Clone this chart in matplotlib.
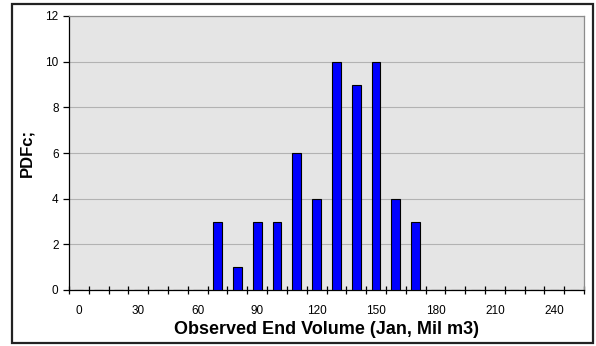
import matplotlib
matplotlib.use("Agg")
import matplotlib.pyplot as plt
import numpy as np
from matplotlib.patches import Rectangle

plt.rcParams['font.family'] = ['Liberation Sans', 'DejaVu Sans']

# categories: observed end volume bins (Mil m3)
volumes = list(range(0, 260, 10))
counts = [0, 0, 0, 0, 0, 0, 0, 3, 1, 3, 3, 6, 4, 10, 9, 10, 4, 3,
          0, 0, 0, 0, 0, 0, 0, 0]
tick_labels = [str(v) if v % 30 == 0 else '' for v in volumes]

fig = plt.figure(figsize=(5.96, 3.46), dpi=100)
fig.patches.append(Rectangle((12 / 596, 3 / 346), 581 / 596, 339 / 346,
                             transform=fig.transFigure, fill=False,
                             edgecolor='#222222', linewidth=1.6))

ax = fig.add_axes([69 / 596, 1 - 290 / 346, 515 / 596, 274 / 346])
ax.set_facecolor('#e5e5e5')

x = np.arange(len(volumes))
ax.bar(x, counts, width=0.45, color='#0000ff', edgecolor='black',
       linewidth=0.8, zorder=3)

ax.set_xlim(-0.5, len(volumes) - 0.5)
ax.set_ylim(0, 12)
ax.set_yticks(range(0, 13, 2))
ax.yaxis.grid(True, color='#b2b2b2', linewidth=0.8, zorder=1)

# labels at category centres, ticks on category boundaries
ax.set_xticks(x)
ax.set_xticklabels(tick_labels, fontsize=8.5)
ax.tick_params(axis='x', which='major', length=0, pad=11)
ax.set_xticks(np.arange(-0.5, len(volumes)), minor=True)
ax.tick_params(axis='x', which='minor', length=6, direction='inout', width=0.9)
ax.tick_params(axis='y', length=4, direction='out', labelsize=8.5, width=0.9)

for s in ['top', 'right']:
    ax.spines[s].set_color('#8c8c8c')
    ax.spines[s].set_linewidth(0.9)
for s in ['left', 'bottom']:
    ax.spines[s].set_color('black')
    ax.spines[s].set_linewidth(0.9)

ax.set_xlabel('Observed End Volume (Jan, Mil m3)', fontsize=13,
              fontweight='bold', labelpad=3)
ax.set_ylabel('PDFc;', fontsize=12, fontweight='bold', labelpad=8)

fig.savefig('out.png', dpi=100)
